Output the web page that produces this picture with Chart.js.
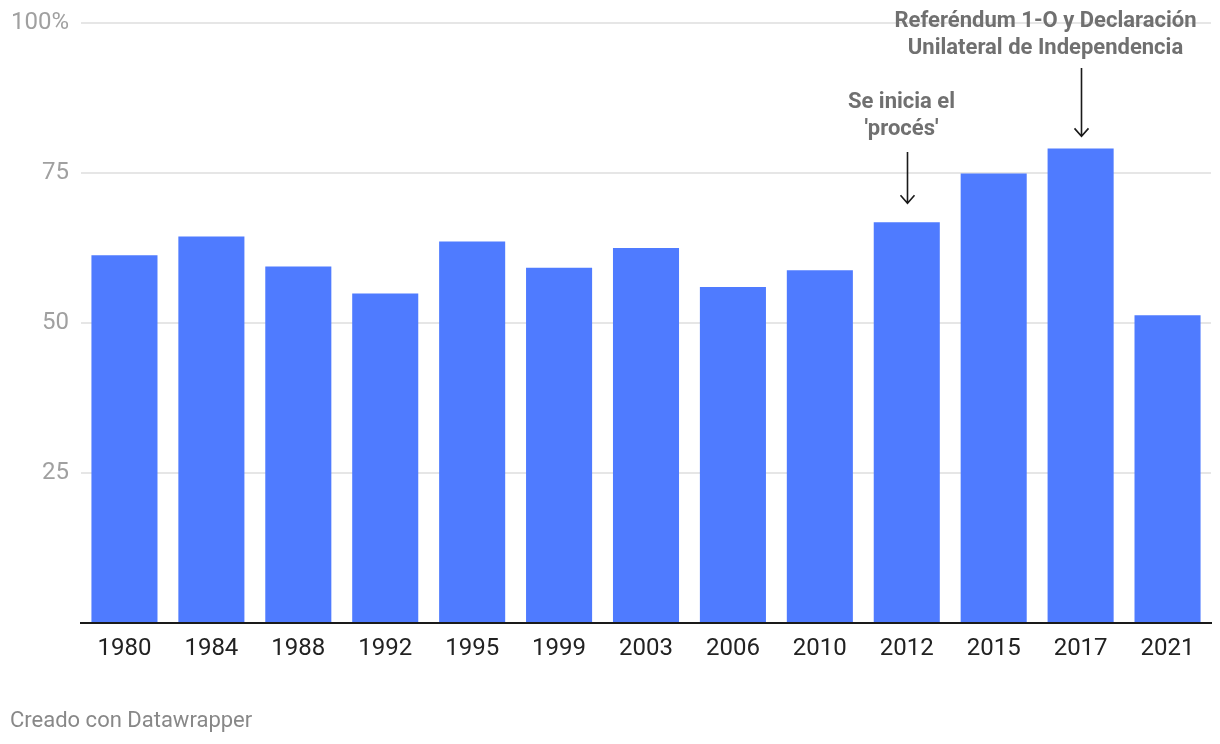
<!DOCTYPE html>
<html>
<head>
<meta charset="utf-8">
<script src="https://cdn.jsdelivr.net/npm/chart.js@4"></script>
<style>
  html, body { margin: 0; padding: 0; background: #fff; }
  #wrap { position: relative; width: 1220px; height: 744px; }
  #footer {
    position: absolute; left: 10px; top: 707px;
    font-family: Roboto, sans-serif; font-size: 22px; color: #888;
  }
</style>
</head>
<body>
<div id="wrap">
  <canvas id="turnoutChart" width="1220" height="744"></canvas>
  <div id="footer">Creado con Datawrapper</div>
</div>
<script>
const years = ['1980', '1984', '1988', '1992', '1995', '1999', '2003', '2006', '2010', '2012', '2015', '2017', '2021'];
const turnout = [61.3, 64.4, 59.4, 54.9, 63.6, 59.2, 62.5, 56.0, 58.8, 66.8, 74.9, 79.1, 51.3];
const yTicks = [0, 25, 50, 75, 100];

// annotations: which year they point at and their text lines
const noteYears = ['2012', '2017'];
const noteLines = [
    ['Se inicia el', '\'procés\''],
    ['Referéndum 1-O y Declaración', 'Unilateral de Independencia']
];

const annotationPlugin = {
    id: 'notes',
    afterDatasetsDraw(chart) {
        const ctx = chart.ctx;
        const xs = chart.scales.x;
        const ys = chart.scales.y;
        // per note: text offset from arrow, first text baseline, arrow start, gap above bar
        const layout = [
            {dx: -6, textY: 108, arrowTop: 152, gap: 19},
            {dx: -36, textY: 27, arrowTop: 68, gap: 12}
        ];
        ctx.save();
        noteYears.forEach((yr, i) => {
            const idx = years.indexOf(yr);
            const x = Math.round(xs.getPixelForValue(idx)) + 0.5;
            const tip = ys.getPixelForValue(turnout[idx]) - layout[i].gap;
            const l = layout[i];

            ctx.fillStyle = '#707070';
            ctx.font = 'bold 22px Roboto, sans-serif';
            ctx.textAlign = 'center';
            ctx.textBaseline = 'alphabetic';
            noteLines[i].forEach((line, j) => {
                ctx.fillText(line, x + l.dx, l.textY + j * 26.5);
            });

            ctx.strokeStyle = '#1a1a1a';
            ctx.lineWidth = 1.6;
            ctx.beginPath();
            ctx.moveTo(x, l.arrowTop);
            ctx.lineTo(x, tip);
            ctx.moveTo(x - 7, tip - 8);
            ctx.lineTo(x, tip);
            ctx.lineTo(x + 7, tip - 8);
            ctx.stroke();
        });
        ctx.restore();
    }
};

const ctx = document.getElementById('turnoutChart').getContext('2d');
new Chart(ctx, {
    type: 'bar',
    data: {
        labels: years,
        datasets: [{
            data: turnout,
            backgroundColor: '#4f7bff',
            barPercentage: 0.76,
            categoryPercentage: 1.0
        }]
    },
    options: {
        responsive: false,
        animation: false,
        layout: {padding: {top: 23, right: 9, bottom: 71, left: 0}},
        plugins: {legend: {display: false}, tooltip: {enabled: false}},
        scales: {
            x: {
                grid: {display: false},
                border: {display: true, color: '#1a1a1a', width: 2},
                ticks: {
                    color: '#222',
                    font: {family: 'Roboto', size: 24},
                    padding: 4,
                    maxRotation: 0
                },
                afterFit(scale) { scale.height = 50; }
            },
            y: {
                min: 0,
                max: 100,
                afterBuildTicks(scale) {
                    scale.ticks = yTicks.map(v => ({value: v}));
                },
                grid: {color: '#e6e6e6', lineWidth: 2, drawTicks: false},
                border: {display: false},
                ticks: {
                    color: '#a0a0a0',
                    font: {family: 'Roboto', size: 24},
                    padding: 12,
                    callback: v => v === 0 ? '' : (v === 100 ? '100%' : v)
                },
                afterFit(scale) {
                    scale.width = 81;
                    scale.paddingTop = 0;
                    scale.paddingBottom = 0;
                }
            }
        }
    },
    plugins: [annotationPlugin]
});
</script>
</body>
</html>
